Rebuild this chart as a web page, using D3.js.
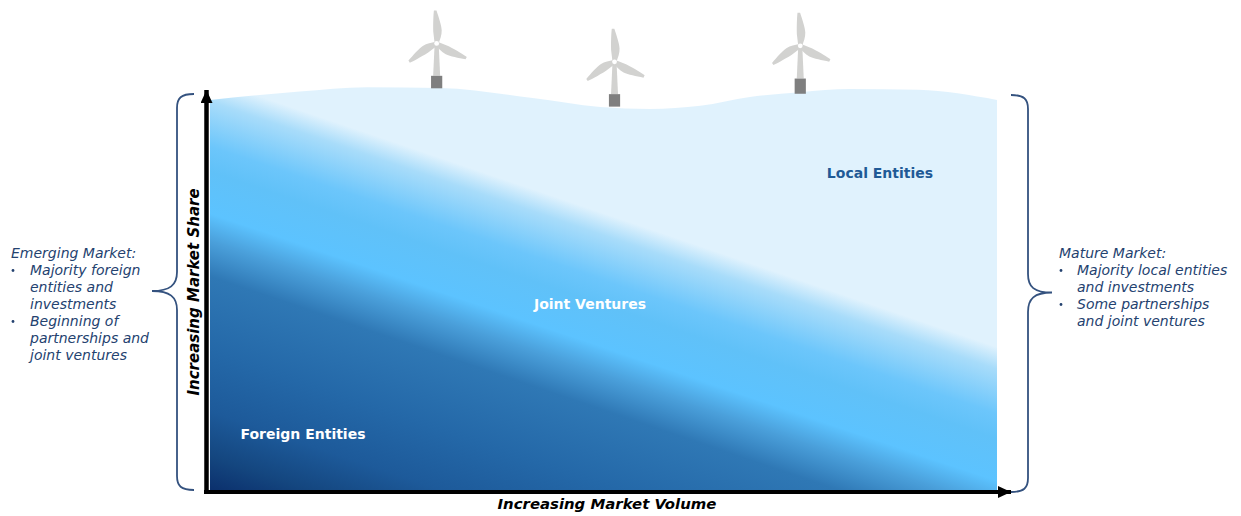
<!DOCTYPE html>
<html>
<head>
<meta charset="utf-8">
<script src="https://cdn.jsdelivr.net/npm/d3@7"></script>
<style>
  html, body { margin: 0; padding: 0; background: #fff; }
  svg { display: block; }
  text { font-family: "DejaVu Sans", Verdana, sans-serif; }
</style>
</head>
<body>
<script>
// surface of the water, top edge of the area (volume %, share %)
var waveVolume = [0, 11.4, 19.9, 29.2, 41, 49.6, 55.9, 62.3, 68.6, 75, 81.3, 90, 100];
var waveShare = [100, 102.2, 103.3, 103.1, 100.5, 98.2, 97.7, 98.5, 100.8, 102, 102.8, 102.6, 100];

// turbines sit on the same axes
var turbineVolume = [28.8, 51.4, 75];
var turbineHubShare = [114.5, 109.8, 113.9];
var turbineBoxTop = [106.2, 101.5, 105.5];
var turbineBoxBottom = [103, 98.3, 101.6];

// colour bands, measured as depth below the light edge
var bandDepth = [8, 30, 75, 100, 142, 170, 205, 280, 340, 385, 420];
var bandColors = ["#e0f2fd", "#a8dcfa", "#6cc6fb", "#60c1f8", "#5cc3ff", "#4a9fda", "#2f78b5", "#2468a8", "#1d5a9a", "#14467f", "#0b2f6c"];

var regionLabels = ["Local Entities", "Joint Ventures", "Foreign Entities"];
var leftNotes = ["Emerging Market:", "Majority foreign", "entities and", "investments", "Beginning of", "partnerships and", "joint ventures"];
var leftBullets = [1, 4];
var rightNotes = ["Mature Market:", "Majority local entities", "and investments", "Some partnerships", "and joint ventures"];
var rightBullets = [1, 3];

var width = 1241, height = 516;
var navy = "#34527f", noteColor = "#24426f";

var svg = d3.select("body").append("svg")
    .attr("width", width)
    .attr("height", height);

var x = d3.scaleLinear().domain([0, 100]).range([210, 997]);
var y = d3.scaleLinear().domain([0, 100]).range([490, 100]);
var depth = d3.scaleLinear().domain([0, 420]).range([0, 1]);

// diagonal gradient, the bands fall to the right
var defs = svg.append("defs");
var grad = defs.append("linearGradient")
    .attr("id", "market-fill")
    .attr("gradientUnits", "userSpaceOnUse")
    .attr("x1", 600).attr("y1", 204)
    .attr("x2", 472).attr("y2", 580.5);
grad.selectAll("stop")
    .data(bandDepth)
    .enter()
    .append("stop")
    .attr("offset", function (d) { return depth(d); })
    .attr("stop-color", function (d, i) { return bandColors[i]; });

var area = d3.area()
    .x(function (d) { return x(d); })
    .y0(y(0))
    .y1(function (d, i) { return y(waveShare[i]); })
    .curve(d3.curveMonotoneX);

svg.append("path")
    .datum(waveVolume)
    .attr("d", area)
    .attr("fill", "url(#market-fill)");

// turbines
var bladePath = "M-2,0 L-3,-12 C-2.8,-22 -2.2,-29 -1.6,-33 L1,-33 C3,-26 5.5,-18 5.5,-13 C5.5,-8 3.5,-4 2,0 Z";
var turbines = svg.selectAll(".turbine")
    .data(turbineVolume)
    .enter()
    .append("g")
    .attr("class", "turbine");

turbines.append("path")
    .attr("d", function (d, i) {
        var h = y(turbineHubShare[i]), b = y(turbineBoxTop[i]);
        return "M" + (x(d) - 2) + "," + h + "L" + (x(d) + 2) + "," + h +
            "L" + (x(d) + 3.5) + "," + b + "L" + (x(d) - 3.5) + "," + b + "Z";
    })
    .attr("fill", "#d2d2d0");

turbines.append("rect")
    .attr("x", function (d) { return x(d) - 5.6; })
    .attr("y", function (d, i) { return y(turbineBoxTop[i]); })
    .attr("width", 11.2)
    .attr("height", function (d, i) { return y(turbineBoxBottom[i]) - y(turbineBoxTop[i]); })
    .attr("fill", "#7f7f7f");

[-2, 117, 237].forEach(function (angle) {
    turbines.append("path")
        .attr("d", bladePath)
        .attr("fill", "#d2d2d0")
        .attr("transform", function (d, i) {
            return "translate(" + x(d) + "," + y(turbineHubShare[i]) + ") rotate(" + angle + ")";
        });
});

turbines.append("circle")
    .attr("cx", function (d) { return x(d); })
    .attr("cy", function (d, i) { return y(turbineHubShare[i]); })
    .attr("r", 2.4)
    .attr("fill", "#fff");

// axes
defs.append("marker")
    .attr("id", "arrow")
    .attr("viewBox", "0 0 10 10")
    .attr("refX", 10).attr("refY", 5)
    .attr("markerUnits", "userSpaceOnUse")
    .attr("markerWidth", 13).attr("markerHeight", 12)
    .attr("orient", "auto")
    .attr("preserveAspectRatio", "none")
    .append("path")
    .attr("d", "M0,0 L10,5 L0,10 Z")
    .attr("fill", "#000");

svg.append("line")
    .attr("x1", 206.5).attr("y1", 494)
    .attr("x2", 206.5).attr("y2", 90)
    .attr("stroke", "#000").attr("stroke-width", 4.5)
    .attr("marker-end", "url(#arrow)");

svg.append("line")
    .attr("x1", 204).attr("y1", 492)
    .attr("x2", 1011).attr("y2", 492)
    .attr("stroke", "#000").attr("stroke-width", 4)
    .attr("marker-end", "url(#arrow)");

svg.append("text")
    .attr("x", 607).attr("y", 509)
    .attr("text-anchor", "middle")
    .style("font-size", "14.9px").style("font-weight", "bold").style("font-style", "italic")
    .text("Increasing Market Volume");

svg.append("text")
    .attr("transform", "translate(199,292) rotate(-90)")
    .attr("text-anchor", "middle")
    .style("font-size", "15px").style("font-weight", "bold").style("font-style", "italic")
    .text("Increasing Market Share");

// labels inside the area
var labelX = [880, 590, 303], labelY = [178, 309, 439], labelColor = ["#1f5a96", "#fff", "#fff"];
svg.selectAll(".region")
    .data(regionLabels)
    .enter()
    .append("text")
    .attr("class", "region")
    .attr("x", function (d, i) { return labelX[i]; })
    .attr("y", function (d, i) { return labelY[i]; })
    .attr("text-anchor", "middle")
    .attr("fill", function (d, i) { return labelColor[i]; })
    .style("font-size", "14px").style("font-weight", "bold")
    .text(function (d) { return d; });

// curly brackets
var braces = [
    "M194,94 C181,94 177,98 177,108 L177,272 C177,285 170,291 152,291 C170,291 177,297 177,310 L177,476 C177,486 181,490 194,490",
    "M1011,95 C1024,95 1028,99 1028,109 L1028,274 C1028,287 1034,292.5 1052,292.5 C1034,292.5 1028,299 1028,312 L1028,478 C1028,488 1024,492 1011,492"
];
svg.selectAll(".brace")
    .data(braces)
    .enter()
    .append("path")
    .attr("class", "brace")
    .attr("d", function (d) { return d; })
    .attr("fill", "none")
    .attr("stroke", navy)
    .attr("stroke-width", 1.8);

function notes(lines, bullets, x0, x1, top) {
    var g = svg.append("g")
        .attr("fill", noteColor)
        .style("font-size", "14px")
        .style("font-style", "italic");
    g.selectAll("text")
        .data(lines)
        .enter()
        .append("text")
        .attr("x", function (d, i) { return i === 0 ? x0 : x1; })
        .attr("y", function (d, i) { return top + i * 17; })
        .text(function (d) { return d; });
    g.selectAll("circle")
        .data(bullets)
        .enter()
        .append("circle")
        .attr("cx", x0 + 2)
        .attr("cy", function (d) { return top + d * 17 - 4.5; })
        .attr("r", 1.4);
}

notes(leftNotes, leftBullets, 11, 30, 258);
notes(rightNotes, rightBullets, 1059, 1077, 258);
</script>
</body>
</html>
